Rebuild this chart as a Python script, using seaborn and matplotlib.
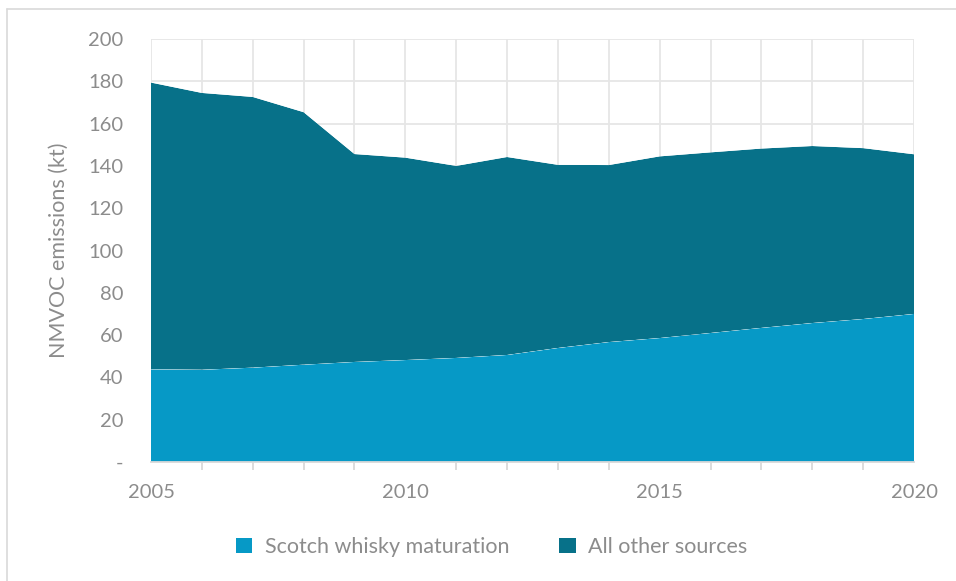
import numpy as np
import pandas as pd
import matplotlib
matplotlib.use("Agg")
import matplotlib.pyplot as plt
from matplotlib.patches import Patch
from matplotlib.lines import Line2D
import seaborn as sns
import seaborn.objects as so

years = list(range(2005, 2021))
whisky = [43.8, 43.6, 44.6, 46.0, 47.3, 48.2, 49.2, 50.6, 53.9, 56.7, 58.6, 61.0, 63.4, 65.7, 67.6, 70.0]
total = [179.4, 174.5, 172.6, 165.4, 145.6, 143.9, 140.0, 144.2, 140.5, 140.4, 144.5, 146.4, 148.2, 149.4, 148.4, 145.5]
other = [t - w for t, w in zip(total, whisky)]
series_names = ["Scotch whisky maturation", "All other sources"]
yticks = [0, 20, 40, 60, 80, 100, 120, 140, 160, 180, 200]
ytick_labels = ["-"] + [str(v) for v in yticks[1:]]
xticks = [2005, 2010, 2015, 2020]

colors = {"Scotch whisky maturation": "#0699C6", "All other sources": "#077189"}
text_color = "#8C8C8C"

df = pd.DataFrame({
    "year": years * 2,
    "value": whisky + other,
    "series": [series_names[0]] * len(years) + [series_names[1]] * len(years),
})

sns.set_theme(style="white")
plt.rcParams["font.family"] = ["Lato", "DejaVu Sans"]

fig = plt.figure(figsize=(9.56, 5.81), dpi=100)
ax = fig.add_axes([151 / 956, (581 - 462) / 581, 763 / 956, 423 / 581])

(
    so.Plot(df, x="year", y="value", color="series")
    .add(so.Area(alpha=1, edgewidth=0), so.Stack(), legend=False)
    .scale(color=so.Nominal(colors, order=series_names))
    .on(ax)
    .plot()
)

ax.set_facecolor("white")
ax.set_xlim(2005, 2020)
ax.set_ylim(0, 200)
ax.set_xticks(xticks)
ax.set_xticklabels([str(x) for x in xticks], color=text_color, fontsize=14.5)
ax.set_xticks(years, minor=True)
ax.set_yticks(yticks)
ax.set_yticklabels(ytick_labels, color=text_color, fontsize=14.5)
ax.grid(True, which="major", axis="y", color="#E6E6E6", linewidth=1.3)
ax.grid(True, which="both", axis="x", color="#E6E6E6", linewidth=1.3)
ax.set_axisbelow(True)
for c in ax.collections:
    c.set_zorder(1)
ax.set_xlabel("")
ax.set_ylabel("NMVOC emissions (kt)", color=text_color, fontsize=15.5, labelpad=14)
for s in ["top", "right", "left"]:
    ax.spines[s].set_visible(False)
ax.spines["bottom"].set_color("#D9D9D9")
ax.spines["bottom"].set_linewidth(1.3)
ax.spines["bottom"].set_zorder(2)
ax.tick_params(axis="y", which="both", length=0, pad=20)
ax.tick_params(axis="x", which="both", length=6, width=1.3, color="#D9D9D9", direction="out", pad=10)
ax.tick_params(axis="x", which="minor", bottom=True)

handles = [Patch(facecolor=colors[n], edgecolor="none") for n in series_names]
fig.legend(handles, series_names, loc="center", bbox_to_anchor=(492 / 956, 1 - 547 / 581),
           ncol=2, frameon=False, fontsize=15.5, labelcolor=text_color,
           handlelength=0.75, handleheight=0.75, columnspacing=2.3, handletextpad=0.6)

# outer frame (top and left edges visible)
fig.add_artist(Line2D([7 / 956, 7 / 956], [0, 1 - 9 / 581], transform=fig.transFigure,
                      color="#D9D9D9", linewidth=1.2))
fig.add_artist(Line2D([7 / 956, 1], [1 - 9 / 581, 1 - 9 / 581], transform=fig.transFigure,
                      color="#D9D9D9", linewidth=1.2))

fig.savefig("out.png", dpi=100)
